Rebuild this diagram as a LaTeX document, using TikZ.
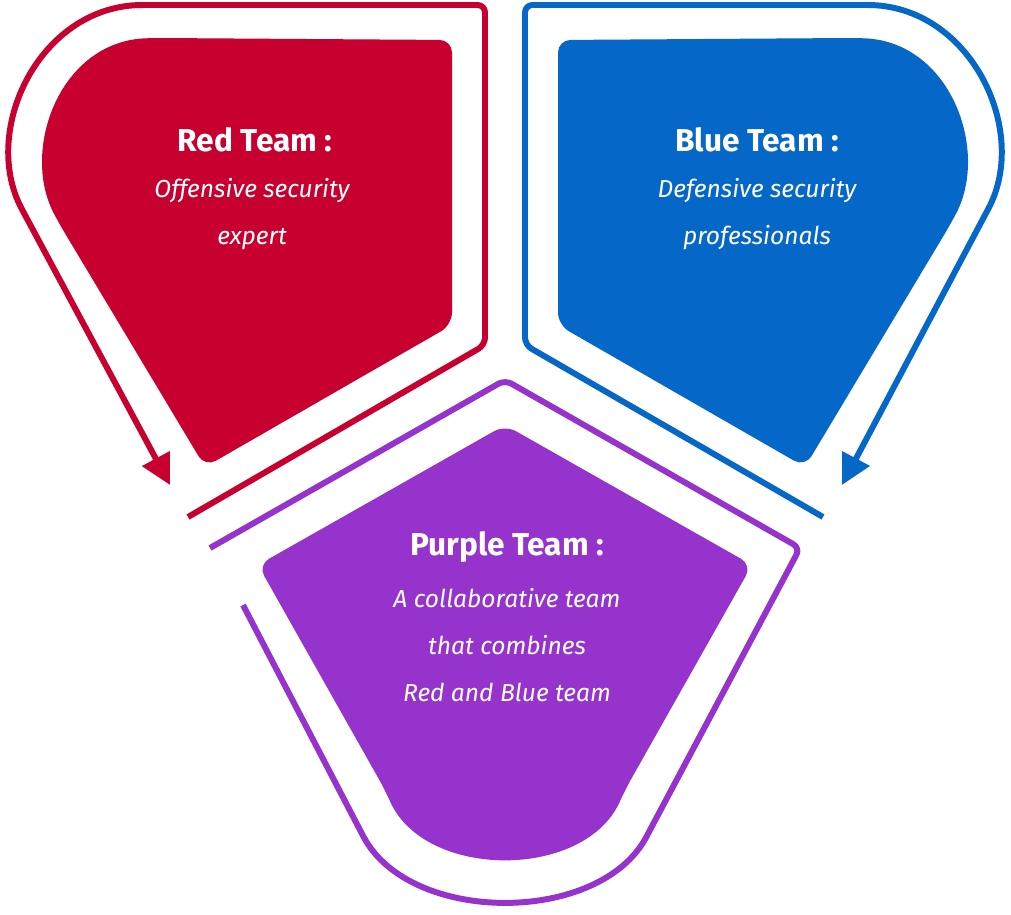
\documentclass[tikz,border=0pt]{standalone}
\usepackage{fontspec}
\setmainfont{Fira Sans}
\usetikzlibrary{arrows.meta}
\definecolor{redteam}{HTML}{C8002F}
\definecolor{blueteam}{HTML}{0567C8}
\definecolor{purpleteam}{HTML}{9533CC}
\begin{document}
\begin{tikzpicture}[x=0.02cm,y=-0.02cm,
  petal/.style={rounded corners=0.25cm},
  ring/.style={line width=3.4pt,rounded corners=0.15cm},
  head/.style={text=white,font=\fontsize{18}{27}\selectfont\bfseries,align=center},
  sub/.style={text=white,font=\fontsize{14}{27}\selectfont\itshape,align=center},
  tip/.style={-{Triangle[length=0.6cm,width=0.6cm]}}
  ]
  \useasboundingbox (0,0) rectangle (1011,915);
  % red
  \fill[redteam,petal] (452,40) -- (452,325) -- (205,467) -- (60,225)
    .. controls (20,150) and (60,40) .. (160,38) -- cycle;
  \draw[redteam,ring,tip] (188,517) -- (485,345) -- (485,5) -- (150,5)
    .. controls (40,5) and (-20,130) .. (25,215) -- (170,485);
  % blue
  \fill[blueteam,petal] (558,40) -- (558,325) -- (805,467) -- (950,225)
    .. controls (990,150) and (950,40) .. (850,38) -- cycle;
  \draw[blueteam,ring,tip] (823,517) -- (525,345) -- (525,5) -- (860,5)
    .. controls (970,5) and (1030,130) .. (985,215) -- (842,485);
  % purple
  \fill[purpleteam,petal] (505,425) -- (752,565) -- (625,790)
    .. controls (585,880) and (425,880) .. (385,790) -- (258,565) -- cycle;
  \draw[purpleteam,ring] (210,548) -- (505,380) -- (800,548) -- (650,830)
    .. controls (600,925) and (410,925) .. (360,830) -- (243,605);
  % texts
  \node[head] (redhead) at (255,140) {Red Team :};
  \node[sub] (redsub) at (252,214) {Offensive security\\expert};
  \node[head] (bluehead) at (757,140) {Blue Team :};
  \node[sub] (bluesub) at (757,214) {Defensive security\\professionals};
  \node[head] (purplehead) at (507,547) {Purple Team :};
  \node[sub] (purplesub) at (507,645) {A collaborative team\\that combines\\Red and Blue team};
\end{tikzpicture}
\end{document}
